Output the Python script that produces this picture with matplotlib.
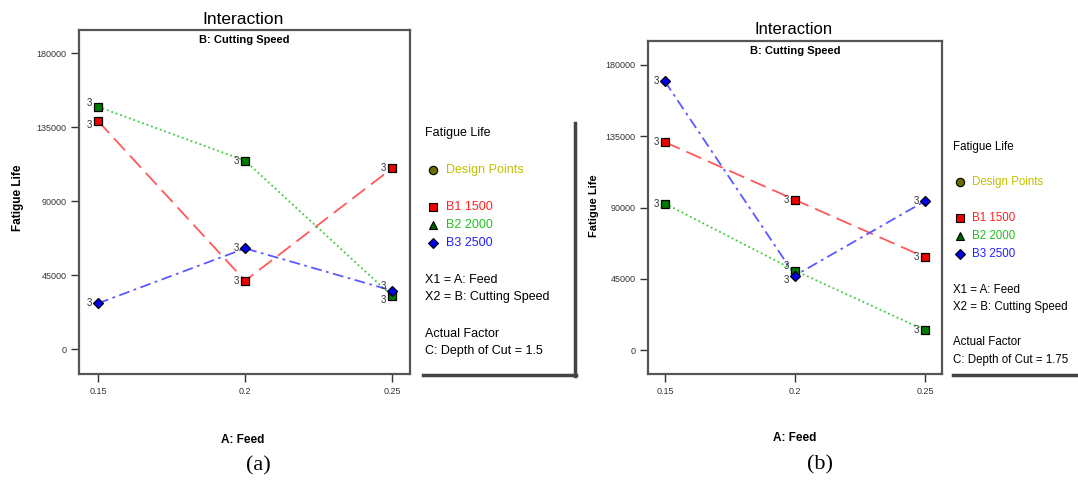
import matplotlib.pyplot as plt
from matplotlib.lines import Line2D

W, H = 1078, 480

feed = [0.15, 0.2, 0.25]
yticks = [0, 45000, 90000, 135000, 180000]

# panel (a): depth of cut = 1.5
a_b1 = [138600, 41500, 109900]
a_b2 = [147300, 114500, 32200]
a_b3 = [27800, 61200, 35500]

# panel (b): depth of cut = 1.75
b_b1 = [131200, 94800, 58600]
b_b2 = [92500, 50200, 12600]
b_b3 = [169500, 47100, 94100]

line_cols = ['#ff5a5a', '#3ccc3c', '#5a5aff']
mark_cols = ['#ee0000', '#007a00', '#0000ee']
markers = ['s', 's', 'D']
styles = [(0, (9, 4)), (0, (1, 1.6)), (0, (6, 2.5, 1.5, 2.5))]

plt.rcParams['font.family'] = ['Liberation Sans', 'DejaVu Sans']

fig = plt.figure(figsize=(W / 100, H / 100), dpi=100)


def px(x, y):
    return x / W, 1 - y / H


def draw_panel(rect, series, ylim, xlim):
    ax = fig.add_axes(rect)
    for i, (vals, lc, mc, mk, ls) in enumerate(zip(series, line_cols, mark_cols, markers, styles)):
        ax.plot(feed, vals, color=lc, linestyle=ls, lw=1.3, zorder=2)
        ax.plot(feed, vals, linestyle='none', marker=mk, ms=5.5 if mk == 's' else 5,
                mfc=mc, mec='black', mew=0.9, zorder=3)
        for j, (x, v) in enumerate(zip(feed, vals)):
            # "3" run labels; nudge apart where two points sit almost on top of each other
            dy = 0
            for k, other in enumerate(series):
                if k != i and abs(other[j] - v) < 9000:
                    dy = 3 if v > other[j] else -3
            ax.annotate('3', (x, v), xytext=(-6, dy), textcoords='offset points',
                        ha='center', va='center', fontsize=7, color='#333333', zorder=4)
    ax.set_xlim(*xlim)
    ax.set_ylim(*ylim)
    ax.set_xticks(feed)
    ax.set_xticklabels(['0.15', '0.2', '0.25'])
    ax.set_yticks(yticks)
    ax.set_yticklabels([str(t) for t in yticks])
    ax.tick_params(direction='out', length=6, width=1, labelsize=6.5, pad=3, colors='#333333')
    for s in ax.spines.values():
        s.set_color('#555555')
        s.set_linewidth(1.6)
    ax.text(0.5, 0.985, 'B: Cutting Speed', transform=ax.transAxes, ha='center', va='top',
            fontsize=8, fontweight='bold')
    return ax


def draw_legend(x_txt, x_mk, x_col, ys, depth, fs):
    items = [
        ('Fatigue Life', 'black', None, None),
        ('Design Points', '#c0c000', 'o', '#6b6b00'),
        ('B1 1500', '#ff2020', 's', '#ee0000'),
        ('B2 2000', '#20c020', '^', '#006000'),
        ('B3 2500', '#2020ff', 'D', '#0000ee'),
        ('X1 = A: Feed', 'black', None, None),
        ('X2 = B: Cutting Speed', 'black', None, None),
        ('Actual Factor', 'black', None, None),
        ('C: Depth of Cut = ' + depth, 'black', None, None),
    ]
    for (txt, col, mk, mc), y in zip(items, ys):
        if mk is None:
            fig.text(*px(x_txt, y), txt, color=col, fontsize=fs, va='center', ha='left')
        else:
            fig.text(*px(x_col, y), txt, color=col, fontsize=fs, va='center', ha='left')
            fig.add_artist(Line2D([x_mk / W], [1 - y / H], marker=mk, ms=6 if mk != 'D' else 5,
                                  mfc=mc, mec='black', mew=0.8, linestyle='none'))


# panel (a)
draw_panel([79 / W, 106 / H, 331 / W, 344 / H], [a_b1, a_b2, a_b3],
           (-15200, 194000), (0.1435, 0.2561))
fig.text(*px(243, 19), 'Interaction', ha='center', va='center', fontsize=12.5)
fig.text(*px(18, 198), 'Fatigue Life', ha='center', va='center', rotation=90,
         fontsize=8.5, fontweight='bold')
fig.text(*px(243, 440), 'A: Feed', ha='center', va='center', fontsize=8.5, fontweight='bold')
fig.text(*px(258, 466), '(a)', ha='center', va='center', fontsize=16, family='Liberation Serif')
draw_legend(425, 433, 446, [133, 170, 207, 225, 243, 280, 297, 334, 351], '1.5', 9)
fig.add_artist(Line2D([575 / W, 575 / W], [1 - 123 / H, 1 - 376 / H], color='#444444', lw=2.5))
fig.add_artist(Line2D([423 / W, 576 / W], [1 - 375 / H, 1 - 375 / H], color='#444444', lw=2.5))

# panel (b)
draw_panel([648 / W, 106 / H, 294 / W, 333 / H], [b_b1, b_b2, b_b3],
           (-15000, 195000), (0.1435, 0.2565))
fig.text(*px(794, 30), 'Interaction', ha='center', va='center', fontsize=12)
fig.text(*px(594, 206), 'Fatigue Life', ha='center', va='center', rotation=90,
         fontsize=8, fontweight='bold')
fig.text(*px(795, 438), 'A: Feed', ha='center', va='center', fontsize=8.5, fontweight='bold')
fig.text(*px(820, 465), '(b)', ha='center', va='center', fontsize=16, family='Liberation Serif')
draw_legend(953, 960, 972, [147, 182, 218, 236, 254, 290, 307, 342, 360], '1.75', 8.3)
fig.add_artist(Line2D([953 / W, 1078 / W], [1 - 375 / H, 1 - 375 / H], color='#444444', lw=2.5))

fig.savefig('out.png', dpi=100)
